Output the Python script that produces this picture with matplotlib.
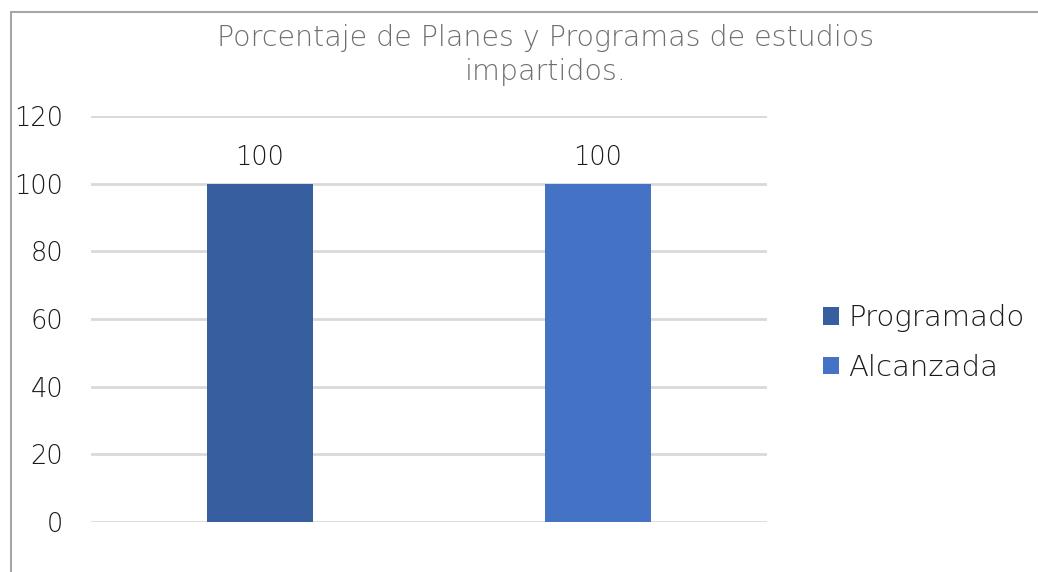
import matplotlib.pyplot as plt
from matplotlib.patches import Rectangle, Patch

# data
series = ["Programado", "Alcanzada"]
values = [100, 100]
colors = ["#375E9F", "#4472C4"]
y_ticks = [0, 20, 40, 60, 80, 100, 120]
title = "Porcentaje de Planes y Programas de estudios\nimpartidos."

plt.rcParams["font.family"] = ["DejaVu Sans"]
plt.rcParams["font.weight"] = "light"

fig = plt.figure(figsize=(10.38, 5.72), dpi=100)

# chart border (only top/left visible in the crop)
fig.patches.append(
    Rectangle(
        (11 / 1038, -0.1),
        1.2,
        1.1 - 12 / 572,
        transform=fig.transFigure,
        fill=False,
        edgecolor="#a6a6a6",
        linewidth=1.5,
    )
)

ax = fig.add_axes([91 / 1038, 1 - 522 / 572, 676 / 1038, 406 / 572])

x = list(range(len(values)))
bars = ax.bar(x, values, width=0.314, color=colors, zorder=3)

for rect, v in zip(bars, values):
    ax.annotate(
        f"{v}",
        (rect.get_x() + rect.get_width() / 2, v),
        xytext=(0, 14),
        textcoords="offset pixels",
        ha="center",
        va="bottom",
        fontsize=18.5,
        color="#1a1a1a",
    )

ax.set_xlim(-0.5, len(values) - 0.5)
ax.set_ylim(0, 120)
ax.set_yticks(y_ticks)
ax.set_xticks([])
ax.tick_params(axis="y", length=0, pad=20, labelsize=18.5, labelcolor="#1a1a1a")
ax.grid(axis="y", color="#d9d9d9", linewidth=2, zorder=0)
for s in ax.spines.values():
    s.set_visible(False)

fig.text(
    546 / 1038,
    1 - 55 / 572,
    title,
    ha="center",
    va="center",
    fontsize=20.5,
    color="#6e6e6e",
    linespacing=1.3,
)

handles = [Patch(facecolor=c, label=s) for c, s in zip(colors, series)]
fig.legend(
    handles=handles,
    loc="center left",
    bbox_to_anchor=(797 / 1038, 1 - 343 / 572),
    frameon=False,
    fontsize=21,
    handlelength=0.55,
    handleheight=0.55,
    handletextpad=0.3,
    labelspacing=0.75,
    labelcolor="#1a1a1a",
)

fig.savefig("out.png", dpi=100)
